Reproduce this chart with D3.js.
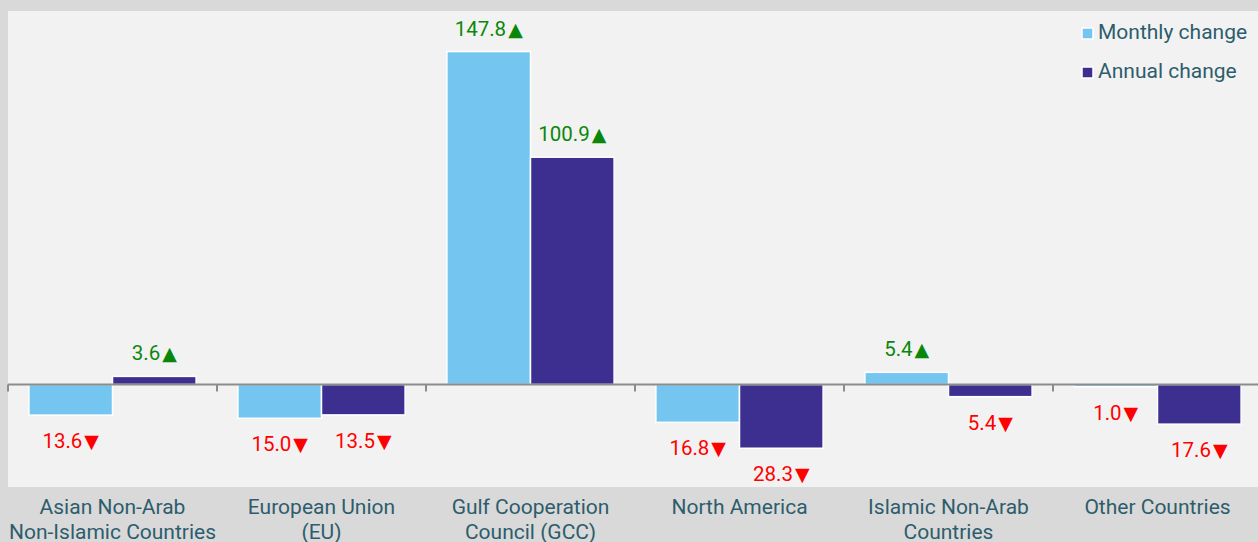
<!DOCTYPE html>
<html>
<head>
<meta charset="utf-8">
<script src="https://cdn.jsdelivr.net/npm/d3@7"></script>
<style>
  html, body { margin: 0; padding: 0; background: #d9d9d9; }
  svg { display: block; font-family: Roboto, "Noto Sans", sans-serif; }
</style>
</head>
<body>
<svg id="chart" width="1258" height="542"></svg>
<script>
// chart data
const categories = [
  ['Asian Non-Arab', 'Non-Islamic Countries'],
  ['European Union', '(EU)'],
  ['Gulf Cooperation', 'Council (GCC)'],
  ['North America'],
  ['Islamic Non-Arab', 'Countries'],
  ['Other Countries']
];
const seriesNames = ['Monthly change', 'Annual change'];
const monthlyChange = [-13.6, -15.0, 147.8, -16.8, 5.4, -1.0];
const annualChange = [3.6, -13.5, 100.9, -28.3, -5.4, -17.6];

const colors = { 'Monthly change': '#74c6f0', 'Annual change': '#3c2f8f' };
const textColor = '#2d5d6c';

const width = 1258, height = 542;
const plot = { left: 8, right: 1262, top: 11, bottom: 487 };

const svg = d3.select('#chart');

// plot background
svg.append('rect')
  .attr('x', plot.left)
  .attr('y', plot.top)
  .attr('width', width - plot.left)
  .attr('height', plot.bottom - plot.top)
  .attr('fill', '#f2f2f2');

const keys = categories.map((c, i) => i);

const x0 = d3.scaleBand()
  .domain(keys)
  .range([plot.left, plot.right])
  .paddingInner(0.2)
  .paddingOuter(0.1);

const x1 = d3.scaleBand()
  .domain(seriesNames)
  .range([0, x0.bandwidth()]);

const y = d3.scaleLinear()
  .domain([-45.5, 165.8])
  .range([plot.bottom, plot.top]);

const rows = keys.map(i => ({
  i,
  values: [
    { name: 'Monthly change', value: monthlyChange[i] },
    { name: 'Annual change', value: annualChange[i] }
  ]
}));

const groups = svg.append('g')
  .selectAll('g')
  .data(rows)
  .enter()
  .append('g')
  .attr('transform', d => `translate(${x0(d.i)},0)`);

groups.selectAll('rect')
  .data(d => d.values)
  .enter()
  .append('rect')
  .attr('x', d => x1(d.name))
  .attr('y', d => y(Math.max(0, d.value)))
  .attr('width', x1.bandwidth())
  .attr('height', d => Math.abs(y(d.value) - y(0)))
  .attr('fill', d => colors[d.name])
  .attr('stroke', '#ffffff')
  .attr('stroke-width', 1.5);

// value labels with arrows
const labels = groups.selectAll('text')
  .data(d => d.values)
  .enter()
  .append('text')
  .attr('x', d => x1(d.name) + x1.bandwidth() / 2)
  .attr('y', d => d.value >= 0 ? y(d.value) - 16 : y(d.value) + 33)
  .attr('text-anchor', 'middle')
  .attr('font-size', 20.5)
  .attr('fill', d => d.value >= 0 ? '#0a870a' : '#ff0000');

labels.append('tspan')
  .text(d => Math.abs(d.value).toFixed(1));
labels.append('tspan')
  .attr('font-family', 'DejaVu Sans')
  .attr('font-size', 19)
  .attr('dx', 2)
  .text(d => d.value >= 0 ? '\u25B2' : '\u25BC');

// zero axis line with ticks at band edges
const step = x0.step();
const axis = svg.append('g');
axis.append('line')
  .attr('x1', plot.left)
  .attr('x2', width)
  .attr('y1', y(0))
  .attr('y2', y(0))
  .attr('stroke', '#8c8c8c')
  .attr('stroke-width', 2);

axis.selectAll('line.tick')
  .data(keys)
  .enter()
  .append('line')
  .attr('class', 'tick')
  .attr('x1', d => x0(d) - step * 0.1)
  .attr('x2', d => x0(d) - step * 0.1)
  .attr('y1', y(0))
  .attr('y2', y(0) + 7)
  .attr('stroke', '#8c8c8c')
  .attr('stroke-width', 2);

// category labels
svg.append('g')
  .selectAll('text')
  .data(keys)
  .enter()
  .append('text')
  .attr('x', d => x0(d) + x0.bandwidth() / 2)
  .attr('y', 514)
  .attr('text-anchor', 'middle')
  .attr('font-size', 21)
  .attr('fill', textColor)
  .each(function (d) {
    const t = d3.select(this);
    categories[d].forEach((line, j) => {
      t.append('tspan')
        .attr('x', x0(d) + x0.bandwidth() / 2)
        .attr('dy', j === 0 ? 0 : 25)
        .text(line);
    });
  });

// legend
const legend = svg.append('g')
  .selectAll('g')
  .data(seriesNames)
  .enter()
  .append('g')
  .attr('transform', (d, i) => `translate(1082, ${28 + i * 39})`);

legend.append('rect')
  .attr('width', 11)
  .attr('height', 11)
  .attr('fill', d => colors[d])
  .attr('stroke', '#ffffff')
  .attr('stroke-width', 1.5);

legend.append('text')
  .attr('x', 16)
  .attr('y', 11)
  .attr('font-size', 21)
  .attr('fill', textColor)
  .text(d => d);
</script>
</body>
</html>
